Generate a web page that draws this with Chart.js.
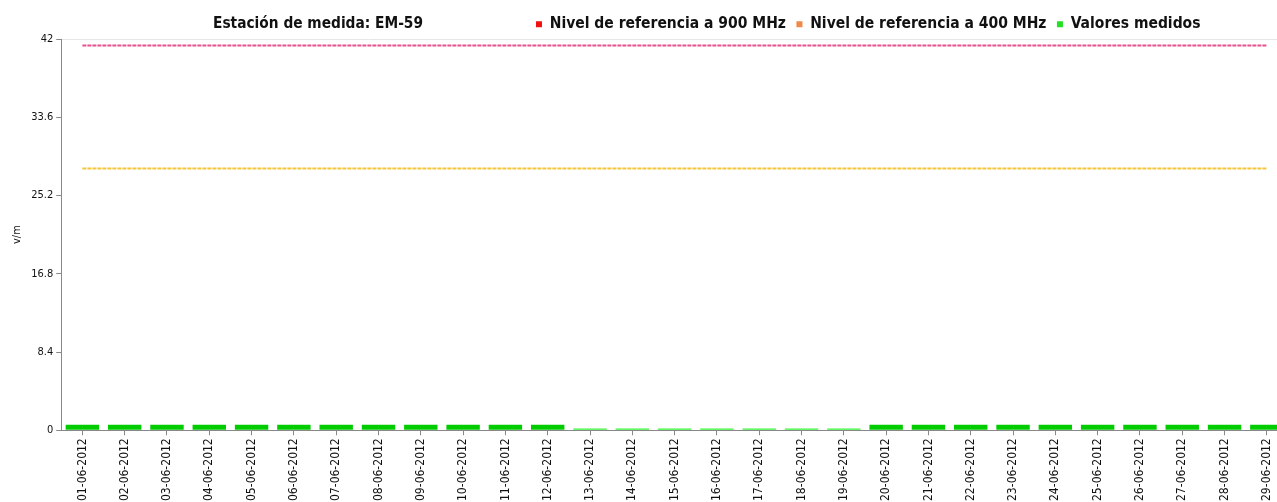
<!DOCTYPE html>
<html>
<head>
<meta charset="utf-8">
<script src="https://cdn.jsdelivr.net/npm/chart.js@4/dist/chart.umd.min.js"></script>
<style>
  html, body { margin: 0; padding: 0; background: #fff; overflow: hidden; }
  #wrap { position: relative; width: 1288px; height: 504px; }
</style>
</head>
<body>
<div id="wrap"><canvas id="medidas"></canvas></div>
<script>
const fechas = [
    '01-06-2012', '02-06-2012', '03-06-2012', '04-06-2012', '05-06-2012', '06-06-2012',
    '07-06-2012', '08-06-2012', '09-06-2012', '10-06-2012', '11-06-2012', '12-06-2012',
    '13-06-2012', '14-06-2012', '15-06-2012', '16-06-2012', '17-06-2012', '18-06-2012',
    '19-06-2012', '20-06-2012', '21-06-2012', '22-06-2012', '23-06-2012', '24-06-2012',
    '25-06-2012', '26-06-2012', '27-06-2012', '28-06-2012', '29-06-2012'
];

const valoresMedidos = [
    0.58, 0.6, 0.6, 0.6, 0.6, 0.6, 0.6, 0.6, 0.6, 0.6, 0.6, 0.6,
    0.19, 0.19, 0.19, 0.19, 0.19, 0.19, 0.19,
    0.6, 0.6, 0.6, 0.6, 0.6, 0.6, 0.6, 0.6, 0.6, 0.6
];

const nivel900 = [
    41.3, 41.3, 41.3, 41.3, 41.3, 41.3, 41.3, 41.3, 41.3, 41.3,
    41.3, 41.3, 41.3, 41.3, 41.3, 41.3, 41.3, 41.3, 41.3, 41.3,
    41.3, 41.3, 41.3, 41.3, 41.3, 41.3, 41.3, 41.3, 41.3
];

const nivel400 = [
    28.1, 28.1, 28.1, 28.1, 28.1, 28.1, 28.1, 28.1, 28.1, 28.1,
    28.1, 28.1, 28.1, 28.1, 28.1, 28.1, 28.1, 28.1, 28.1, 28.1,
    28.1, 28.1, 28.1, 28.1, 28.1, 28.1, 28.1, 28.1, 28.1
];

const yTicks = [0, 8.4, 16.8, 25.2, 33.6, 42];

const titulo = 'Estación de medida: EM-59';
const legendColors = ['#f01010', '#f08848', '#22e022'];
const fontName = '"DejaVu Sans Condensed", "DejaVu Sans", sans-serif';

// draws the title on the same row as the legend and nudges the legend
const tituloPlugin = {
    id: 'tituloPlugin',
    afterLayout(chart) {
        chart.legend.right -= 77;
        chart.legend.top += 3;
    },
    afterDraw(chart) {
        const ctx = chart.ctx;
        ctx.save();
        ctx.font = 'bold 15.3px ' + fontName;
        ctx.fillStyle = '#111';
        ctx.textAlign = 'center';
        ctx.textBaseline = 'middle';
        ctx.fillText(titulo, 318, 24);
        ctx.restore();
    }
};

const ctx = document.getElementById('medidas').getContext('2d');

new Chart(ctx, {
    type: 'bar',
    data: {
        labels: fechas,
        datasets: [
            {
                type: 'line',
                label: 'Nivel de referencia a 900 MHz',
                data: nivel900,
                borderColor: '#e6508e',
                backgroundColor: legendColors[0],
                borderWidth: 2,
                borderDash: [4, 1],
                pointRadius: 0,
                fill: false,
                order: 0
            },
            {
                type: 'line',
                label: 'Nivel de referencia a 400 MHz',
                data: nivel400,
                borderColor: '#f5c53a',
                backgroundColor: legendColors[1],
                borderWidth: 2,
                borderDash: [4, 1],
                pointRadius: 0,
                fill: false,
                order: 1
            },
            {
                label: 'Valores medidos',
                data: valoresMedidos,
                backgroundColor: (c) => c.raw < 0.3 ? '#33f533' : '#00cc00',
                borderWidth: 0,
                barPercentage: 0.79,
                categoryPercentage: 1,
                order: 2
            }
        ]
    },
    options: {
        responsive: true,
        maintainAspectRatio: false,
        animation: false,
        layout: { padding: { top: 3, left: 7, right: 0, bottom: 0 } },
        plugins: {
            title: { display: false },
            tooltip: { enabled: false },
            legend: {
                position: 'top',
                align: 'end',
                labels: {
                    boxWidth: 6,
                    boxHeight: 6,
                    padding: 10.5,
                    color: '#111',
                    font: { family: fontName, size: 15.5, weight: 'bold' },
                    generateLabels: function(chart) {
                        const items = Chart.defaults.plugins.legend.labels.generateLabels(chart);
                        return items.map((item, i) => {
                            item.fillStyle = legendColors[i];
                            item.strokeStyle = legendColors[i];
                            item.lineWidth = 0;
                            item.lineDash = [];
                            return item;
                        });
                    }
                }
            }
        },
        scales: {
            x: {
                grid: {
                    offset: false,
                    color: 'rgba(0,0,0,0)',
                    tickColor: '#888',
                    tickLength: 5
                },
                border: { display: true, color: '#888' },
                ticks: {
                    minRotation: 90,
                    maxRotation: 90,
                    autoSkip: false,
                    color: '#111',
                    font: { family: fontName, size: 12 }
                }
            },
            y: {
                min: 0,
                max: 42,
                afterBuildTicks: (axis) => {
                    axis.ticks = yTicks.map(v => ({ value: v }));
                },
                grid: {
                    color: (c) => c.tick && c.tick.value === 42 ? '#e6e6e6' : 'rgba(0,0,0,0)',
                    tickColor: '#888',
                    tickLength: 5
                },
                border: { display: true, color: '#888' },
                ticks: {
                    color: '#111',
                    font: { family: fontName, size: 11 },
                    callback: (v) => String(v)
                },
                title: {
                    display: true,
                    text: 'v/m',
                    color: '#111',
                    font: { family: fontName, size: 11 }
                }
            }
        }
    },
    plugins: [tituloPlugin]
});
</script>
</body>
</html>
